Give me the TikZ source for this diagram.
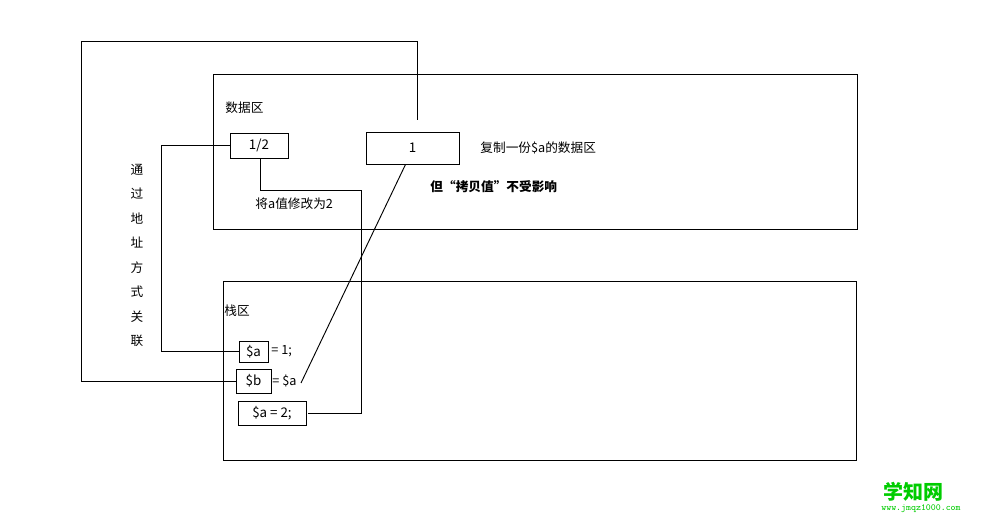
\documentclass[tikz,border=0pt]{standalone}
\usepackage{fontspec}
\setmainfont{Noto Sans CJK SC}
\begin{document}
\begin{tikzpicture}[x=0.75pt,y=-0.75pt,line width=0.7pt,
  box/.style={draw,minimum height=#1,inner sep=0pt,font=\fontsize{10}{12}\selectfont},
  lbl/.style={font=\fontsize{9.5}{11}\selectfont,inner sep=0pt}]
\useasboundingbox (0,0) rectangle (985,523);
\draw (213,74) rectangle (857,229);
\draw (223,281) rectangle (856,460);
\node[box=0pt, minimum width=58*0.75pt, minimum height=25*0.75pt] (h) at (259,145.5) {1/2};
\node[box=0pt, minimum width=93*0.75pt, minimum height=32*0.75pt] (one) at (412.5,148) {1};
\node[box=0pt, minimum width=29*0.75pt, minimum height=21*0.75pt] (sa) at (253.5,351.5) {\$a};
\node[lbl,anchor=west] at (271,351.5) {= 1;};
\node[box=0pt, minimum width=35*0.75pt, minimum height=24*0.75pt] (sb) at (253.5,381) {\$b};
\node[lbl,anchor=west] at (272,381) {= \$a};
\coordinate (sbend) at (301,383);
\node[box=0pt, minimum width=68*0.75pt, minimum height=24*0.75pt] (s2) at (272,413) {\$a = 2;};
\draw (sb.west) -- (81,381) -- (81,41) -- (417,41) -- (417,120);
\draw (h.west) -- (161,145.5) -- (161,351.5) -- (sa.west);
\draw (s2.east) ++(2,0) -- (361,413) -- (361,190) -- (260,190) -- (h.south -| 260,0);
\draw (one.south) ++(-7,0) -- (sbend);
\node[lbl,anchor=west] at (225,108) {数据区};
\node[lbl,anchor=west] at (480,148) {复制一份\$a的数据区};
\node[lbl,anchor=west,font=\fontsize{9.5}{11}\selectfont\bfseries] at (430,187) {但“拷贝值”不受影响};
\node[lbl,anchor=west] at (255,204) {将a值修改为2};
\node[lbl,anchor=west] at (224,311) {栈区};
\foreach \c [count=\i] in {通,过,地,址,方,式,关,联}
  \node[lbl] at (137,145+\i*24.5) {\c};
\node[font=\fontsize{15}{16}\selectfont\bfseries,text=green!80!black,inner sep=0pt] at (913,492) {学知网};
\node[font=\fontsize{7}{8}\selectfont\ttfamily,text=green!80!black,inner sep=0pt] at (921,509) {www.jmqz1000.com};
\end{tikzpicture}
\end{document}
